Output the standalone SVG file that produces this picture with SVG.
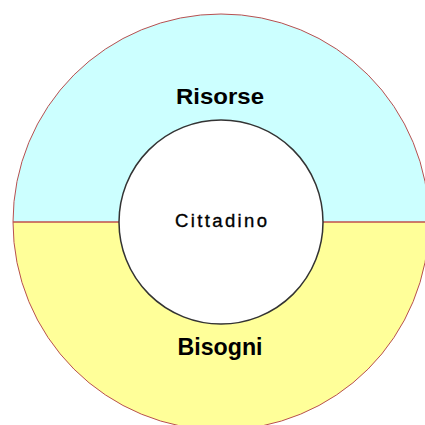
<svg xmlns="http://www.w3.org/2000/svg" width="425" height="425" viewBox="0 0 425 425">
<style>
.lbl{font-family:"Liberation Sans",Arial,sans-serif;fill:#000;text-anchor:middle}
.b{font-weight:bold}
</style>
<rect width="425" height="425" fill="#fff"/>
<g id="risorse">
<path d="M13,222 A208,208 0 0 1 429,222 Z" fill="#ccffff"/>
</g>
<g id="bisogni">
<path d="M13,222 A208,208 0 0 0 429,222 Z" fill="#ffff99"/>
</g>
<g id="outline">
<circle cx="221" cy="222" r="208" fill="none" stroke="#b85050" stroke-width="1"/>
</g>
<g id="connectors">
<line x1="13" y1="222" x2="119" y2="222" stroke="#c0504d" stroke-width="1.5"/>
<line x1="323" y1="222" x2="429" y2="222" stroke="#c0504d" stroke-width="1.5"/>
</g>
<g id="cittadino">
<circle cx="221" cy="222" r="102" fill="#fff" stroke="#333" stroke-width="1.5"/>
<text class="lbl" x="221" y="227" font-size="18.5" stroke="#000" stroke-width="0.35" textLength="92" lengthAdjust="spacing">Cittadino</text>
</g>
<text class="lbl b" x="220" y="104" font-size="21.5" textLength="88" lengthAdjust="spacingAndGlyphs">Risorse</text>
<text class="lbl b" x="220" y="355" font-size="24" textLength="85" lengthAdjust="spacingAndGlyphs">Bisogni</text>
</svg>
